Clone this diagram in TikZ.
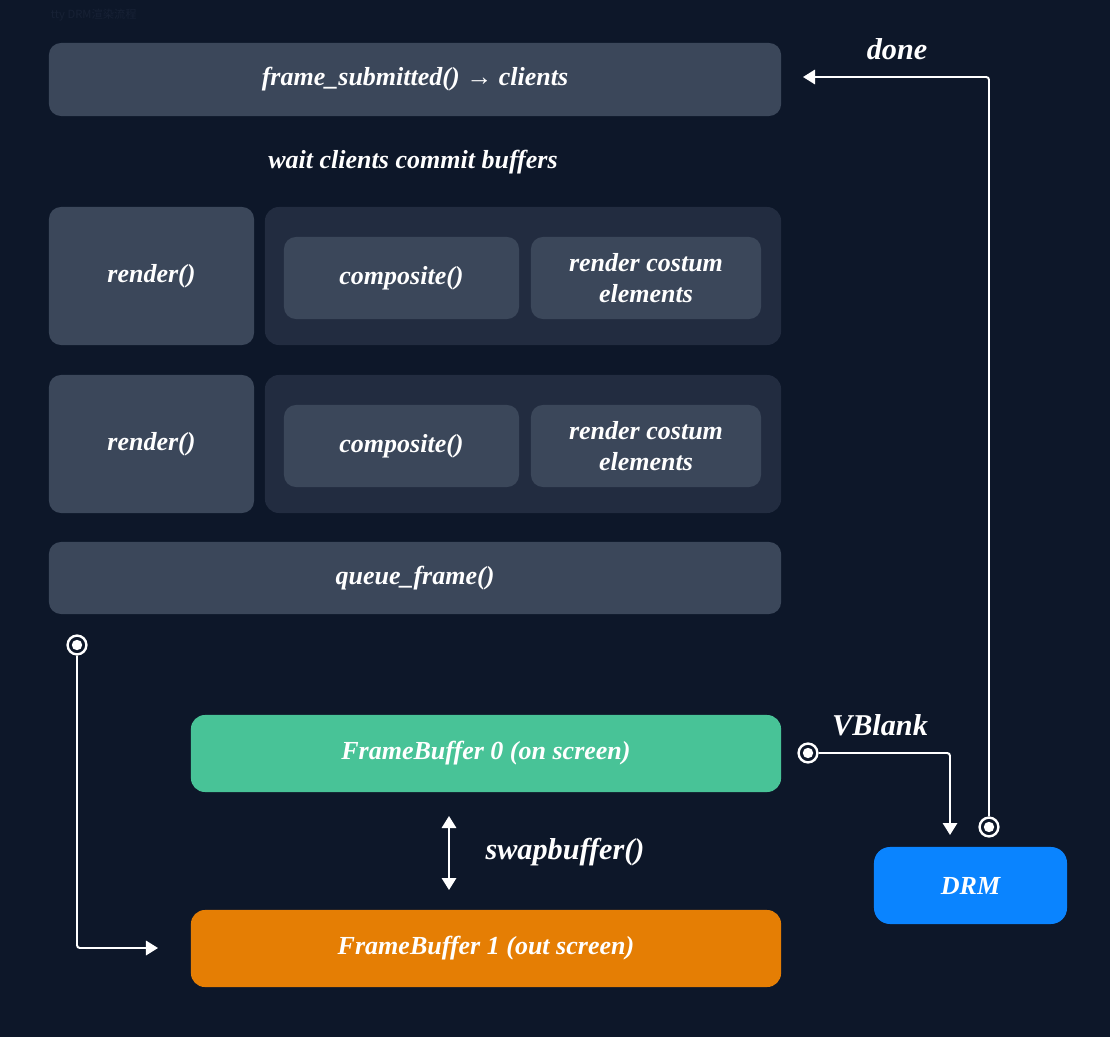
\documentclass[tikz,border=0pt]{standalone}
\usepackage{fontspec}
\setmainfont{Liberation Serif}
\newfontfamily\cjk{Noto Sans CJK SC}
\usetikzlibrary{arrows.meta}

\definecolor{bgc}{HTML}{0D1729}
\definecolor{boxc}{HTML}{3B475A}
\definecolor{grpc}{HTML}{222C40}
\definecolor{titlec}{HTML}{172135}
\definecolor{fbzero}{HTML}{48C397}
\definecolor{fbone}{HTML}{E57E04}
\definecolor{drmc}{HTML}{0A84FF}

\begin{document}
\begin{tikzpicture}[x = 0.025cm, y = -0.025cm]
\tikzstyle{BoxStyle}=[shape = rectangle, rounded corners = 0.3cm,
                      fill = boxc, text = white, align = center,
                      font = \fontsize{18.5}{22}\selectfont\bfseries\itshape]
\tikzstyle{GroupStyle}=[shape = rectangle, rounded corners = 0.35cm,
                        fill = grpc, minimum width = 12.9cm, minimum height = 3.45cm]
\tikzstyle{LabelStyle}=[text = white, font = \fontsize{21.5}{26}\selectfont\bfseries\itshape]
\tikzstyle{TapStyle}=[shape = circle, draw = white, line width = 1.7pt,
                      fill = bgc, minimum size = 0.47cm, inner sep = 0pt,
                      path picture = {\fill[white] (path picture bounding box.center) circle (0.13cm);}]
\tikzstyle{post}=[draw = white, line width = 1.4pt, rounded corners = 2pt,
                  -{Triangle[length = 0.3cm, width = 0.36cm]}]

% background
\fill[bgc] (0,0) rectangle (1110,1037);
\node[anchor = west, text = titlec, font = \cjk\fontsize{8}{10}\selectfont] (title) at (46,15) {tty DRM渲染流程};

% top and bottom of the loop
\node[BoxStyle, minimum width = 18.3cm, minimum height = 1.825cm] (submit) at (415,79.5) {frame\_submitted() → clients};
\node[BoxStyle, fill = none] (wait) at (413,162) {wait clients commit buffers};
\node[BoxStyle, minimum width = 18.3cm, minimum height = 1.8cm] (queue) at (415,578) {queue\_frame()};

% the two render passes
\foreach \i/\y in {1/276, 2/444}{
  \node[BoxStyle, minimum width = 5.125cm, minimum height = 3.45cm] (render\i) at (151.5,\y) {render()};
  \node[GroupStyle] (group\i) at (523,\y) {};
  \node[BoxStyle, minimum width = 5.875cm, minimum height = 2.05cm] (comp\i) at (401.5,\y+2) {composite()};
  \node[BoxStyle, minimum width = 5.75cm, minimum height = 2.05cm] (custom\i) at (646,\y+2) {render costum\\elements};
}

% frame buffers and DRM
\node[BoxStyle, fill = fbzero, minimum width = 14.75cm, minimum height = 1.925cm, rounded corners = 0.35cm] (fb0) at (486,753.5) {FrameBuffer 0 (on screen)};
\node[BoxStyle, fill = fbone, minimum width = 14.75cm, minimum height = 1.925cm, rounded corners = 0.35cm] (fb1) at (486,948.5) {FrameBuffer 1 (out screen)};
\node[BoxStyle, fill = drmc, minimum width = 4.825cm, minimum height = 1.925cm, rounded corners = 0.4cm] (drm) at (970.5,885.5) {DRM};

% taps and arrow ends
\node[TapStyle] (tq) at (77,645) {};
\node[TapStyle] (tv) at (808,753) {};
\node[TapStyle] (td) at (989,827) {};
\coordinate (eq) at (158,948);
\coordinate (ev) at (950,835);
\coordinate (ed) at (803,77);
\coordinate (su) at (449,816);
\coordinate (sd) at (449,890);

\draw[post] (tq) |- (eq);
\draw[post] (tv) -| (ev);
\draw[post] (td) |- (ed);
\draw[post, {Triangle[length = 0.3cm, width = 0.36cm]}-{Triangle[length = 0.3cm, width = 0.36cm]}] (su) -- (sd);

% labels
\node[LabelStyle] (swap) at (565,852) {swapbuffer()};
\node[LabelStyle] (vblank) at (880,725) {VBlank};
\node[LabelStyle] (done) at (897,49) {done};
\end{tikzpicture}
\end{document}
